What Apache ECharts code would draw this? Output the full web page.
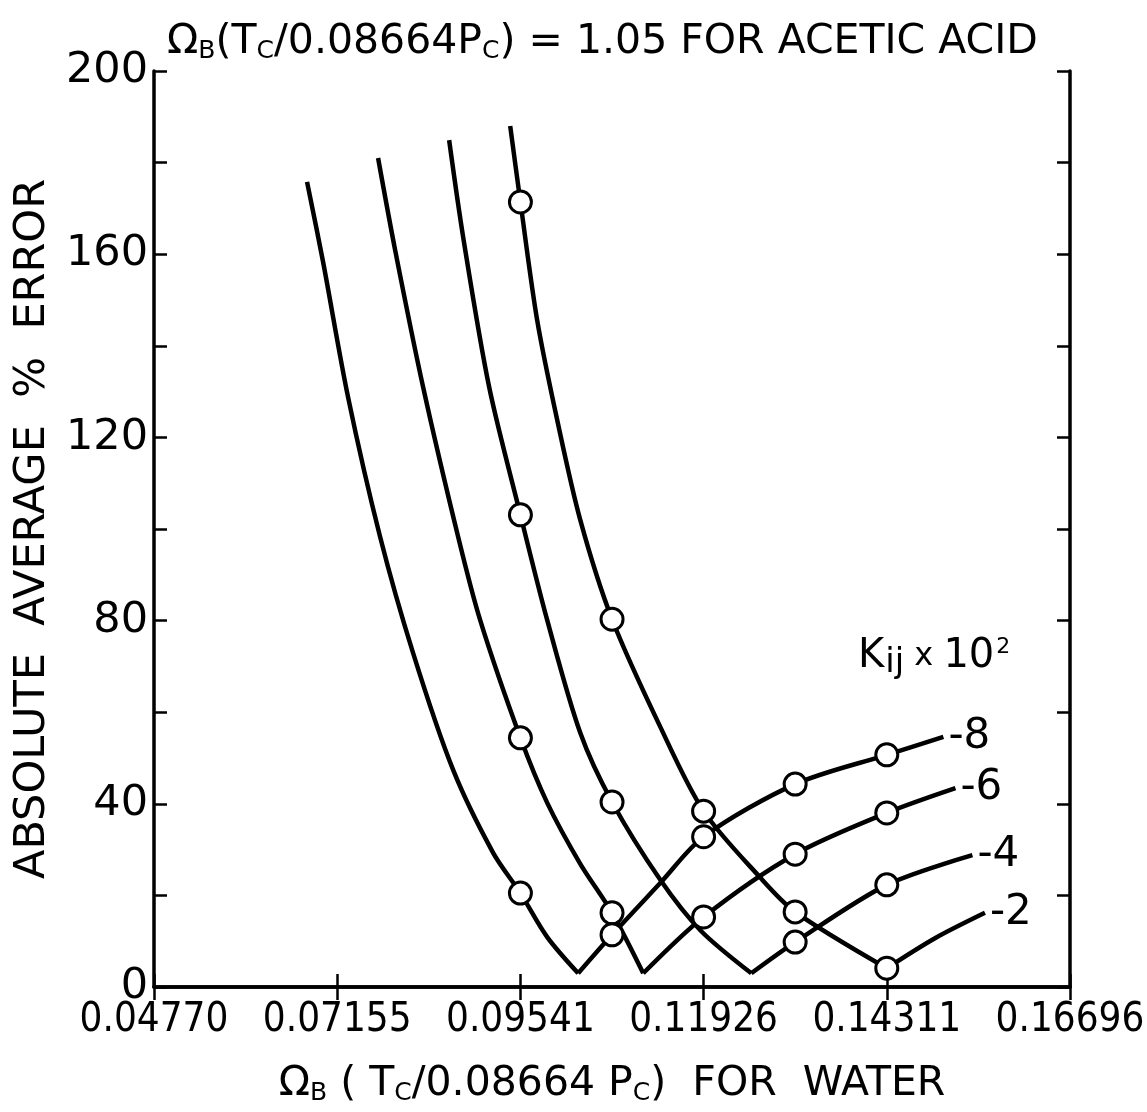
<!DOCTYPE html>
<html lang="en">
<head>
    <meta charset="UTF-8">
    <title>Absolute average % error vs Omega_B for water</title>
    <script src="https://cdn.jsdelivr.net/npm/echarts@6/dist/echarts.min.js"></script>
    <style>
        html, body { margin: 0; padding: 0; background: #fff; }
        #chart { width: 1147px; height: 1112px; }
    </style>
</head>
<body>
<div id="chart"></div>
<script>
    // x axis: Omega_B(Tc/0.08664Pc) for water, ticks every 0.023852
    const xStep = 0.023852;
    const xTickLabels = ["0.04770", "0.07155", "0.09541", "0.11926", "0.14311", "0.16696"];
    const yTickLabels = [0, 40, 80, 120, 160, 200];

    // Kij x 10^2 curves: falling branch (down to the minimum) and rising branch
    const fallK8 = [[0.06763, 175.8], [0.06972, 158.3], [0.07297, 128.8], [0.07714, 98.3], [0.08144, 72.9],
        [0.08665, 47.4], [0.09186, 29.3], [0.09541, 20.5], [0.09890, 10.9], [0.10293, 3.0]];
    const riseK8 = [[0.10293, 3.0], [0.10734, 11.4], [0.11362, 22.7], [0.11926, 32.8], [0.13118, 44.3],
        [0.14311, 50.7], [0.15048, 54.6]];

    const fallK6 = [[0.07688, 181.0], [0.07910, 160.9], [0.08274, 131.0], [0.08730, 98.3], [0.09017, 80.1],
        [0.09541, 54.4], [0.09890, 40.2], [0.10320, 26.9], [0.10734, 16.2], [0.11140, 3.0]];
    const riseK6 = [[0.11140, 3.0], [0.11926, 15.3], [0.13118, 29.0], [0.14311, 38.0], [0.15205, 43.4]];

    const fallK4 = [[0.08613, 184.9], [0.08795, 163.8], [0.09134, 131.0], [0.09541, 103.1], [0.09890, 80.1],
        [0.10320, 55.5], [0.10734, 40.4], [0.11362, 23.4], [0.11883, 12.4], [0.12547, 3.0]];
    const riseK4 = [[0.12547, 3.0], [0.13118, 9.8], [0.14311, 22.3], [0.15426, 28.8]];

    const fallK2 = [[0.09408, 188.0], [0.09541, 171.4], [0.09759, 145.6], [0.10020, 123.8], [0.10320, 102.0],
        [0.10734, 80.3], [0.11362, 56.8], [0.11926, 38.4], [0.12658, 24.0], [0.13118, 16.4], [0.14311, 4.1]];
    const riseK2 = [[0.14311, 4.1], [0.14944, 10.7], [0.15589, 16.2]];

    // open circles (calculated points)
    const circlePoints = [
        [0.09541, 171.4], [0.09541, 103.1], [0.09541, 54.4], [0.09541, 20.5],
        [0.10734, 80.3], [0.10734, 40.4], [0.10734, 16.2], [0.10734, 11.4],
        [0.11926, 38.4], [0.11926, 32.8], [0.11926, 15.3],
        [0.13118, 44.3], [0.13118, 29.0], [0.13118, 16.4], [0.13118, 9.8],
        [0.14311, 50.7], [0.14311, 38.0], [0.14311, 22.3], [0.14311, 4.1]
    ];

    const FONT = "DejaVu Sans";
    const NARROW = "'DejaVu Sans Condensed', 'DejaVu Sans'";
    const INK = "#000";

    function curve(data, endText) {
        let s = {
            type: 'line',
            data: data,
            smooth: 0.3,
            showSymbol: false,
            symbol: 'none',
            lineStyle: { color: INK, width: 4.5 },
            z: 2,
            silent: true
        };
        if (endText) {
            s.endLabel = {
                show: true,
                formatter: endText,
                color: INK,
                fontFamily: FONT,
                fontSize: 42,
                distance: 5
            };
        }
        return s;
    }

    function xLabel(v) {
        let i = Math.round(v / xStep) - 2;
        return xTickLabels[i] !== undefined ? xTickLabels[i] : '';
    }

    let chart = echarts.init(document.getElementById('chart'));
    let tickStyle = { inside: true, length: 13, lineStyle: { color: INK, width: 2.5 } };
    let minorStyle = { show: true, splitNumber: 2, length: 13, lineStyle: { color: INK, width: 2.5 } };
    let lineStyle = { show: true, lineStyle: { color: INK, width: 3.5 } };
    let subRich = {
        a: { fontFamily: FONT, fontSize: 41, fontWeight: 'normal', color: INK },
        s: { fontFamily: FONT, fontSize: 25, fontWeight: 'normal', color: INK, verticalAlign: 'bottom', padding: [18, 0, 0, 0] }
    };

    chart.setOption({
        backgroundColor: '#fff',
        animation: false,
        title: {
            text: '{a|Ω}{s|B}{a|(T}{s|C}{a|/0.08664P}{s|C}{a|) = 1.05 FOR ACETIC ACID}',
            left: 162,
            top: 16,
            textStyle: { fontWeight: 'normal', rich: subRich }
        },
        grid: { left: 154, right: 77, top: 71, bottom: 125, outerBoundsMode: 'none', containLabel: false },
        xAxis: [{
            type: 'value',
            position: 'bottom',
            min: 2 * xStep,
            max: 7 * xStep,
            interval: xStep,
            axisLine: lineStyle,
            axisTick: tickStyle,
            splitLine: { show: false },
            axisLabel: { formatter: xLabel, color: INK, fontFamily: NARROW, fontSize: 40, margin: 14 },
            name: '{a|Ω}{s|B}{a| ( T}{s|C}{a|/0.08664 P}{s|C}{a|)  FOR  WATER}',
            nameLocation: 'middle',
            nameGap: 76,
            nameTextStyle: { rich: subRich }
        }, {
            type: 'value',
            position: 'top',
            min: 2 * xStep,
            max: 7 * xStep,
            interval: xStep,
            axisLine: lineStyle,
            axisTick: tickStyle,
            axisLabel: { show: false },
            splitLine: { show: false }
        }],
        yAxis: [{
            type: 'value',
            position: 'left',
            min: yTickLabels[0],
            max: yTickLabels[yTickLabels.length - 1],
            interval: 40,
            axisLine: lineStyle,
            axisTick: tickStyle,
            minorTick: minorStyle,
            splitLine: { show: false },
            axisLabel: { color: INK, fontFamily: FONT, fontSize: 43, margin: 6 },
            name: 'ABSOLUTE  AVERAGE  %  ERROR',
            nameLocation: 'middle',
            nameGap: 100,
            nameTextStyle: { fontFamily: FONT, fontSize: 43, color: INK }
        }, {
            type: 'value',
            position: 'right',
            min: yTickLabels[0],
            max: yTickLabels[yTickLabels.length - 1],
            interval: 40,
            axisLine: lineStyle,
            axisTick: tickStyle,
            minorTick: minorStyle,
            axisLabel: { show: false },
            splitLine: { show: false }
        }],
        graphic: [{
            type: 'text',
            left: 858,
            top: 636,
            style: {
                text: '{a|K}{s|ij}{x| x }{a|10}{p|2}',
                rich: {
                    a: { fontFamily: FONT, fontSize: 40, fill: INK },
                    s: { fontFamily: FONT, fontSize: 34, fill: INK, padding: [12, 0, 0, 1] },
                    x: { fontFamily: FONT, fontSize: 32, fill: INK },
                    p: { fontFamily: FONT, fontSize: 22, fill: INK, padding: [0, 0, 20, 2] }
                }
            }
        }],
        series: [
            curve(fallK8), curve(riseK8, '-8'),
            curve(fallK6), curve(riseK6, '-6'),
            curve(fallK4), curve(riseK4, '-4'),
            curve(fallK2), curve(riseK2, '-2'),
            {
                type: 'scatter',
                data: circlePoints,
                symbol: 'circle',
                symbolSize: 22,
                itemStyle: { color: '#fff', borderColor: INK, borderWidth: 3, opacity: 1 },
                z: 5,
                silent: true
            }
        ]
    });
</script>
</body>
</html>
